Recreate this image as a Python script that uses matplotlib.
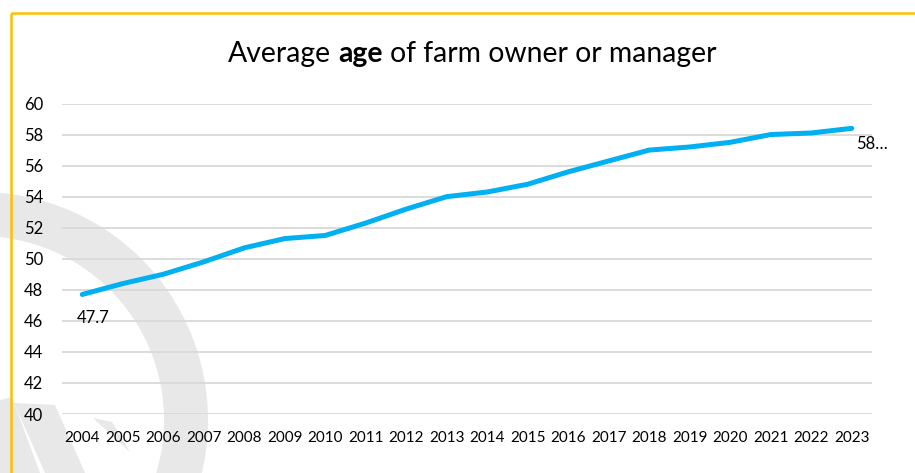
import matplotlib.pyplot as plt
from matplotlib.patches import Wedge, Polygon

# Average age of farm owner or manager, by survey year
years = ['2004', '2005', '2006', '2007', '2008', '2009', '2010', '2011', '2012', '2013',
         '2014', '2015', '2016', '2017', '2018', '2019', '2020', '2021', '2022', '2023']
avg_age = [47.7, 48.4, 49.0, 49.8, 50.7, 51.3, 51.5, 52.3, 53.2, 54.0,
           54.3, 54.8, 55.6, 56.3, 57.0, 57.2, 57.5, 58.0, 58.1, 58.4]
y_ticks = [40, 42, 44, 46, 48, 50, 52, 54, 56, 58, 60]

W, H = 915, 473
fig = plt.figure(figsize=(W / 100, H / 100), dpi=100)
plt.rcParams['font.family'] = ['Lato', 'DejaVu Sans']

# background layer in pixel units: faint logo watermark and the frame
bg = fig.add_axes([0, 0, 1, 1])
bg.set_xlim(0, W)
bg.set_ylim(H, 0)
bg.axis('off')
wm = '#e8e8e8'
bg.add_patch(Wedge((-20, 420), 228, -90, 90, width=44, color=wm, lw=0))
bg.add_patch(Polygon([(0, 400), (12, 397), (40, 473), (0, 473)], color=wm, lw=0))
bg.add_patch(Polygon([(14, 403), (55, 405), (85, 473), (45, 473)], color=wm, lw=0))
bg.add_patch(Polygon([(93, 418), (112, 422), (130, 452)], color=wm, lw=0))
bg.plot([11, W], [13, 13], color='#ffc000', lw=1.8, solid_capstyle='butt')
bg.plot([11, 11], [13, H], color='#ffc000', lw=1.8, solid_capstyle='butt')

ax = fig.add_axes([62 / W, 1 - 414 / H, 810 / W, 310.5 / H])
ax.set_facecolor('none')
x = range(len(years))
ax.plot(x, avg_age, color='#00b0f0', lw=3.6, solid_capstyle='round', zorder=3)

ax.set_xlim(-0.5, len(years) - 0.5)
ax.set_ylim(40, 60)
ax.set_xticks(list(x))
ax.set_xticklabels(years, fontsize=11)
ax.set_yticks(y_ticks)
ax.set_yticklabels([str(v) for v in y_ticks], fontsize=12)
ax.tick_params(axis='both', length=0, colors='#000000')
ax.tick_params(axis='x', pad=12)
ax.tick_params(axis='y', pad=13.5)
ax.grid(axis='y', color='#d9d9d9', lw=1.3)
ax.set_axisbelow(True)
for s in ax.spines.values():
    s.set_visible(False)

# data labels on first and last points
ax.annotate(f'{avg_age[0]}', (0, avg_age[0]), xytext=(8, -17), textcoords='offset points',
            ha='center', va='center', fontsize=12)
ax.annotate(f'{int(avg_age[-1])}…', (len(years) - 1, avg_age[-1]), xytext=(14.5, -11.5),
            textcoords='offset points', ha='center', va='center', fontsize=12)

# title with the bold word in the middle
fs = 20.4
t1 = fig.text(228 / W, 1 - 62 / H, 'Average', fontsize=fs, va='baseline')
t2 = fig.text(0, 0, 'age', fontsize=fs, fontweight='bold')
t3 = fig.text(0, 0, 'of farm owner or manager', fontsize=fs)
fig.canvas.draw()
r = fig.canvas.get_renderer()
space = 0.26 * fs * 100 / 72
b1 = t1.get_window_extent(r)
t2.set_position(((b1.x1 + space) / W, 1 - 62 / H))
t2.set_va('baseline')
fig.canvas.draw()
b2 = t2.get_window_extent(r)
t3.set_position(((b2.x1 + space) / W, 1 - 62 / H))
t3.set_va('baseline')

fig.savefig('out.png', dpi=100)
